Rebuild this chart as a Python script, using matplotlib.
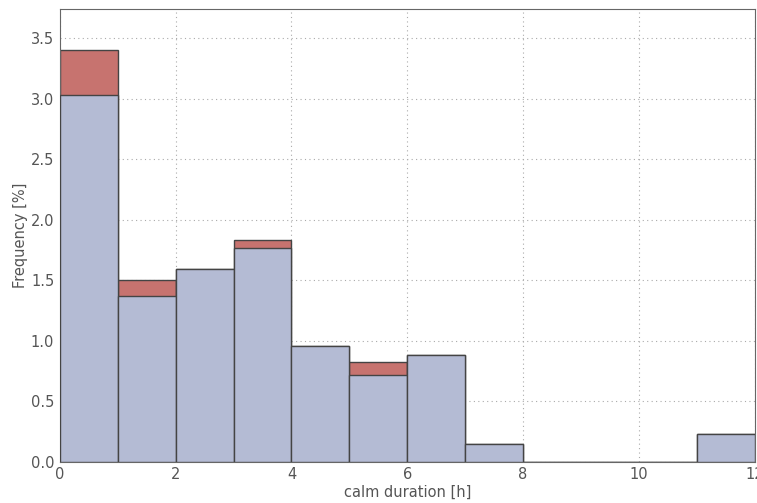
import numpy as np
import matplotlib.pyplot as plt

# hourly bins of calm duration
bin_edges = np.arange(0, 13, 1)
freq_all = [3.40, 1.50, 1.59, 1.83, 0.96, 0.82, 0.88, 0.15, 0.0, 0.0, 0.0, 0.23]
freq_sub = [3.03, 1.37, 1.59, 1.77, 0.96, 0.72, 0.88, 0.15, 0.0, 0.0, 0.0, 0.23]

fig = plt.figure(figsize=(7.57, 5.03), dpi=100)
ax = fig.add_axes([0.079, 0.082, 0.918, 0.9])

left = bin_edges[:-1]
width = np.diff(bin_edges)
ax.bar(left, freq_all, width=width, align="edge", color="#c7736f",
       edgecolor="#444444", linewidth=1.0, zorder=2)
ax.bar(left, freq_sub, width=width, align="edge", color="#b4bbd4",
       edgecolor="#444444", linewidth=1.0, zorder=3)

ax.set_xlim(0, 12)
ax.set_ylim(0, 3.74)
ax.set_yticks(np.arange(0, 3.6, 0.5))
ax.set_xticks(np.arange(0, 13, 2))
ax.grid(True, linestyle=(0, (1, 3)), color="#aaaaaa", linewidth=0.8, zorder=0)
ax.set_axisbelow(True)
ax.tick_params(length=0, labelsize=10.5, labelcolor="#555555", pad=4)
for s in ax.spines.values():
    s.set_color("#666666")

ax.set_xlabel("calm duration [h]", color="#555555", fontsize=10.5, labelpad=2)
ax.set_ylabel("Frequency [%]", color="#555555", fontsize=10.5, labelpad=2)

fig.savefig("out.png", dpi=100)
